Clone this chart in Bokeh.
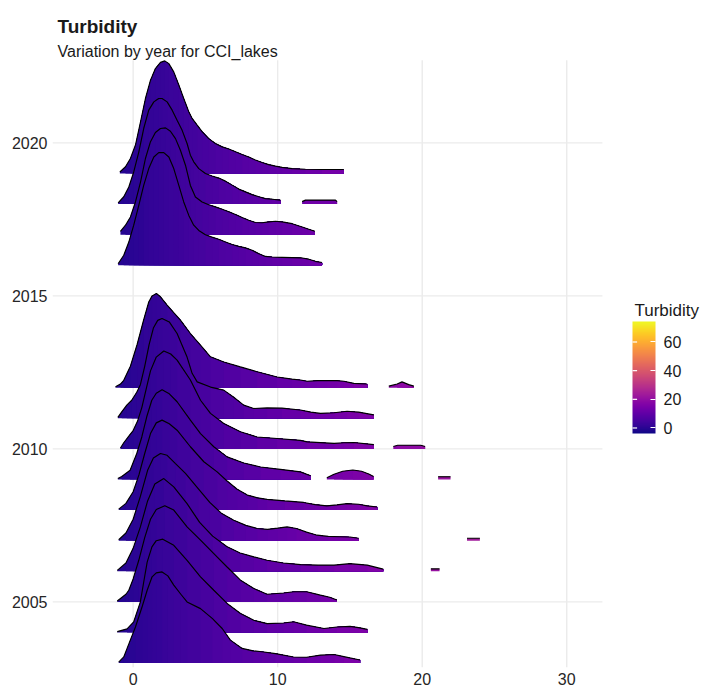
from bokeh.plotting import figure
from bokeh.models import (Range1d, FixedTicker, ColorBar, LinearColorMapper,
                          ColumnDataSource)
from bokeh.core.properties import value
from bokeh.palettes import Plasma256
from bokeh.embed import file_html
from bokeh.resources import INLINE

# Density ridges of turbidity per year: x = turbidity, h = ridge height
# (in row units above the year's baseline). None splits a ridge into pieces.
x2019 = [-0.92, -0.53, -0.19, 0.16, 0.51, 0.85, 1.20, 1.54, 1.89, 2.19, 2.47, 2.81, 3.16, 3.50,
         3.85, 4.08, 4.43, 4.77, 5.23, 5.69, 6.16, 6.62, 7.08, 7.54, 8.00, 8.46, 8.92, 9.38,
         9.85, 10.31, 11.0, 11.92, 13.07, 14.57]
h2019 = [0.05, 0.22, 0.49, 0.93, 1.69, 2.45, 3.05, 3.43, 3.63, 3.68, 3.59, 3.32, 2.89, 2.45,
         2.02, 1.80, 1.58, 1.37, 1.14, 0.98, 0.87, 0.80, 0.71, 0.62, 0.54, 0.44, 0.36, 0.29,
         0.24, 0.20, 0.16, 0.14, 0.13, 0.13]

x2018 = [-1.04, -0.65, -0.30, 0.04, 0.39, 0.73, 1.08, 1.43, 1.77, 2.00, 2.35, 2.70, 3.04, 3.39,
         3.73, 3.96, 4.19, 4.54, 5.0, 5.46, 5.92, 6.39, 6.85, 7.31, 7.77, 8.23, 8.70, 9.15,
         9.62, 10.19, None, 11.69, 11.92, 14.0, 14.11]
h2018 = [0.04, 0.24, 0.56, 1.05, 1.70, 2.47, 3.07, 3.34, 3.45, 3.45, 3.34, 3.07, 2.74, 2.41,
         1.98, 1.60, 1.38, 1.16, 1.00, 0.92, 0.85, 0.75, 0.62, 0.49, 0.40, 0.31, 0.24, 0.18,
         0.16, 0.13, None, 0.08, 0.13, 0.13, 0.08]

x2017 = [-0.88, -0.53, -0.19, 0.16, 0.51, 0.85, 1.20, 1.54, 1.89, 2.24, 2.58, 2.93, 3.27, 3.62,
         3.96, 4.31, 4.77, 5.23, 5.69, 6.16, 6.62, 7.08, 7.54, 8.00, 8.46, 8.92, 9.38, 9.85,
         10.31, 11.0, 11.70, 12.15, 12.57]
h2017 = [0.11, 0.31, 0.58, 1.07, 1.72, 2.49, 3.04, 3.34, 3.47, 3.49, 3.38, 3.14, 2.76, 2.27,
         1.61, 1.23, 1.07, 0.98, 0.91, 0.83, 0.75, 0.66, 0.56, 0.47, 0.40, 0.39, 0.42, 0.44,
         0.42, 0.36, 0.25, 0.18, 0.11]

x2016 = [-1.04, -0.65, -0.30, 0.04, 0.39, 0.73, 1.08, 1.43, 1.77, 2.12, 2.47, 2.81, 3.16, 3.50,
         3.85, 4.19, 4.54, 5.0, 5.46, 5.92, 6.39, 6.85, 7.31, 7.77, 8.23, 8.70, 9.15, 9.62,
         10.31, 11.0, 11.69, 12.15, 12.61, 13.07]
h2016 = [0.05, 0.33, 0.76, 1.31, 1.96, 2.61, 3.16, 3.54, 3.68, 3.68, 3.54, 3.16, 2.61, 2.07,
         1.63, 1.31, 1.14, 1.00, 0.92, 0.85, 0.76, 0.68, 0.62, 0.57, 0.49, 0.38, 0.29, 0.27,
         0.26, 0.25, 0.24, 0.20, 0.13, 0.09]

x2012 = [-1.22, -0.88, -0.65, -0.19, 0.28, 0.73, 1.08, 1.31, 1.61, 1.89, 2.35, 2.81, 3.27, 3.96,
         4.66, 5.35, 6.27, 7.42, 8.58, 9.96, 11.0, 11.57, 12.04, 12.73, 13.42, 14.11, 14.58,
         15.27, 16.19, None, 17.69, 18.27, 18.6, 19.07, 19.42]
h2012 = [0.03, 0.12, 0.24, 0.70, 1.42, 2.22, 2.80, 3.00, 3.08, 2.97, 2.70, 2.45, 2.21, 1.77,
         1.39, 1.01, 0.84, 0.68, 0.52, 0.35, 0.28, 0.25, 0.21, 0.23, 0.23, 0.23, 0.21,
         0.14, 0.12, None, 0.05, 0.12, 0.19, 0.10, 0.05]

x2011 = [-1.06, -0.79, -0.44, -0.1, 0.25, 0.5, 0.8, 1.1, 1.4, 1.7, 2.0, 2.5, 3.04, 3.73, 4.08,
         4.43, 5.35, 6.27, 6.96, 7.65, 8.34, 9.27, 10.3, 11.57, 12.3, 12.96, 13.9, 14.8, 15.6,
         16.65]
h2011 = [0.03, 0.21, 0.43, 0.59, 0.85, 1.10, 1.70, 2.40, 2.95, 3.20, 3.26, 3.15, 2.77, 2.00, 1.47,
         1.19, 1.02, 0.92, 0.69, 0.43, 0.32, 0.34, 0.33, 0.27, 0.20, 0.16, 0.18, 0.23, 0.20,
         0.11]

x2010 = [-0.88, -0.65, -0.3, 0.0, 0.3, 0.6, 0.9, 1.2, 1.6, 2.12, 2.6, 3.04, 3.96, 4.66, 5.35,
         6.27, 7.42, 8.58, 9.96, 11.57, 12.04, 13.9, 14.58, 15.27, 16.65, None, 18.0, 18.3,
         19.9, 20.2]
h2010 = [0.03, 0.20, 0.42, 0.60, 0.90, 1.35, 1.95, 2.55, 3.00, 3.20, 3.10, 2.90, 2.25, 1.59,
         1.16, 0.83, 0.56, 0.39, 0.34, 0.28, 0.23, 0.18, 0.20, 0.21, 0.14, None, 0.08, 0.12,
         0.12, 0.08]

x2009 = [-1.06, -0.79, -0.21, 0.25, 0.6, 0.94, 1.29, 1.6, 2.0, 2.5, 3.04, 3.96, 4.66, 5.58,
         6.5, 7.65, 8.81, 10.19, 11.57, 12.28, None, 13.4, 13.9, 14.5, 15.2, 15.8, 16.3, 16.63,
         None, 21.1, 21.96]
h2009 = [0.03, 0.10, 0.30, 0.85, 1.39, 2.05, 2.59, 2.82, 2.93, 2.80, 2.54, 1.94, 1.50, 1.07,
         0.74, 0.54, 0.41, 0.33, 0.25, 0.12, None, 0.06, 0.17, 0.27, 0.31, 0.27, 0.18, 0.10,
         None, 0.09, 0.09]

x2008 = [-1.0, -0.5, 0, 0.4, 0.8, 1.2, 1.6, 2.0, 2.5, 3.04, 3.96, 4.89, 5.81, 6.5, 7.2, 7.9,
         8.6, 9.27, 10.5, 11.8, 12.6, 13.4, 14.1, 14.8, 15.6, 16.2, 16.88]
h2008 = [0.03, 0.22, 0.60, 1.15, 1.85, 2.50, 2.85, 2.94, 2.82, 2.61, 2.07, 1.58, 1.25, 0.95,
         0.68, 0.49, 0.40, 0.35, 0.30, 0.25, 0.18, 0.14, 0.17, 0.21, 0.19, 0.14, 0.10]

x2007 = [-1.0, -0.5, 0, 0.5, 1.0, 1.4, 1.89, 2.35, 2.93, 3.62, 4.5, 5.3, 6.1, 6.96, 7.8, 8.58,
         9.3, 10.0, 10.65, 11.3, 12.0, 12.73, 13.5, 14.3, 15.0, 15.6, None, 23.1, 23.99]
h2007 = [0.03, 0.25, 0.70, 1.45, 2.30, 2.70, 2.85, 2.79, 2.52, 2.20, 1.70, 1.25, 0.90, 0.67,
         0.50, 0.40, 0.37, 0.41, 0.45, 0.40, 0.28, 0.18, 0.14, 0.13, 0.12, 0.08, None, 0.08, 0.08]

x2006 = [-1.1, -0.5, 0, 0.5, 1.0, 1.5, 2.12, 2.81, 3.73, 4.6, 5.5, 6.5, 7.4, 8.35, 9.27, 10.4,
         11.6, 12.8, 13.9, 15.0, 16.2, 17.3, None, 20.6, 21.2]
h2006 = [0.03, 0.27, 0.75, 1.45, 2.30, 2.85, 3.03, 2.76, 2.21, 1.60, 1.15, 0.80, 0.60, 0.47,
         0.36, 0.27, 0.22, 0.20, 0.20, 0.25, 0.20, 0.07, None, 0.08, 0.08]

x2005 = [-1.1, -0.5, -0.3, 0, 0.39, 0.8, 1.2, 1.6, 2.19, 2.81, 3.73, 4.66, 5.58, 6.5, 7.43,
         8.35, 9.27, 10.4, 11.1, 12.0, 12.96, 13.6, 14.1]
h2005 = [0.03, 0.25, 0.38, 0.75, 1.36, 2.10, 2.70, 3.02, 3.14, 3.00, 2.45, 2.02, 1.58, 1.14,
         0.71, 0.44, 0.25, 0.29, 0.33, 0.33, 0.22, 0.15, 0.06]

x2004 = [-1.1, -0.42, 0.04, 0.5, 0.75, 0.97, 1.3, 1.6, 2.05, 2.81, 3.73, 4.66, 5.58, 6.5, 7.43,
         8.35, 9.27, 10.4, 11.1, 12.0, 13.2, 14.1, 15.0, 15.6, 16.2]
h2004 = [0.03, 0.12, 0.35, 1.00, 1.70, 2.30, 2.80, 3.00, 3.05, 2.85, 2.36, 1.82, 1.38, 0.95,
         0.62, 0.40, 0.29, 0.31, 0.35, 0.24, 0.13, 0.18, 0.20, 0.16, 0.10]

x2003 = [-1.0, -0.65, -0.42, 0.16, 0.62, 0.97, 1.31, 1.6, 2.0, 2.4, 2.81, 3.3, 3.73, 4.66,
         5.47, 6.16, 6.73, 7.54, 8.3, 8.92, 9.85, 11.1, 12.0, 12.96, 13.9, 14.58, 15.7]
h2003 = [0.03, 0.20, 0.48, 1.18, 1.84, 2.38, 2.82, 2.95, 2.98, 2.85, 2.55, 2.25, 2.00, 1.78,
         1.46, 1.13, 0.75, 0.48, 0.40, 0.37, 0.31, 0.20, 0.19, 0.26, 0.28, 0.21, 0.10]

years = [2019, 2018, 2017, 2016, 2012, 2011, 2010, 2009, 2008, 2007, 2006, 2005, 2004, 2003]
ridge_x = [x2019, x2018, x2017, x2016, x2012, x2011, x2010, x2009, x2008, x2007, x2006,
           x2005, x2004, x2003]
ridge_h = [h2019, h2018, h2017, h2016, h2012, h2011, h2010, h2009, h2008, h2007, h2006,
           h2005, h2004, h2003]

x_ticks = [0, 10, 20, 30]
year_ticks = [2005, 2010, 2015, 2020]
legend_ticks = [0, 20, 40, 60]
turb_low, turb_high = -3.85, 74.3

FONT = "Liberation Sans"
TEXT = "#1a1a1a"
GRID = "#ebebeb"

# Panel extent (data units) and the scale of the canvas around it.
X_MIN, X_MAX = -5.58, 32.47          # plotting panel in turbidity units
Y_MIN, Y_MAX = 2002.856, 2022.70     # plotting panel in years
PX_PER_X, PX_PER_Y = 14.453, 30.6
W, H, LEFT, BOTTOM = 708, 694, 52, 27
# The frame covers the whole canvas right of the year labels and above the
# turbidity labels, so headings and the legend can be placed inside it.
xr_end = X_MIN + (W - LEFT) / PX_PER_X
yr_end = Y_MIN + (H - BOTTOM) / PX_PER_Y


def sx(px):
    return X_MIN + (px - LEFT) / PX_PER_X


def sy(py):
    return yr_end - py / PX_PER_Y


def plasma_at(v):
    t = (v - turb_low) / (turb_high - turb_low)
    i = int(round(t * 255))
    return Plasma256[max(0, min(255, i))]


def pieces(xs, hs):
    out, cx, ch = [], [], []
    for x, h in zip(xs, hs):
        if x is None:
            if cx:
                out.append((cx, ch))
            cx, ch = [], []
        else:
            cx.append(x)
            ch.append(h)
    if cx:
        out.append((cx, ch))
    return out


p = figure(width=W, height=H, output_backend="svg", toolbar_location=None,
           x_range=Range1d(X_MIN, xr_end), y_range=Range1d(Y_MIN, yr_end),
           min_border_left=LEFT, min_border_right=0, min_border_top=0,
           min_border_bottom=BOTTOM)
p.outline_line_color = None
p.background_fill_color = "white"
p.border_fill_color = "white"

p.xaxis.ticker = FixedTicker(ticks=x_ticks)
p.yaxis.ticker = FixedTicker(ticks=year_ticks)
for ax in (p.xaxis[0], p.yaxis[0]):
    ax.axis_line_color = None
    ax.major_tick_line_color = None
    ax.minor_tick_line_color = None
    ax.major_tick_out = 0
    ax.major_tick_in = 0
    ax.minor_tick_out = 0
    ax.minor_tick_in = 0
    ax.major_label_text_font = FONT
    ax.major_label_text_font_size = "16px"
    ax.major_label_text_color = "#262626"
    ax.major_label_standoff = 5
p.xgrid.grid_line_color = None
p.ygrid.grid_line_color = None

# Grid lines limited to the panel
p.segment(x0=x_ticks, x1=x_ticks, y0=[Y_MIN] * len(x_ticks), y1=[Y_MAX] * len(x_ticks),
          line_color=GRID, line_width=1.4)
p.segment(x0=[X_MIN] * len(year_ticks), x1=[X_MAX] * len(year_ticks), y0=year_ticks,
          y1=year_ticks, line_color=GRID, line_width=1.4)

# Top rows first, so each lower ridge is drawn over the one above it.
# Within a ridge, the piece from knot i to the end is painted in the colour of
# band i; each following piece covers it from knot i+1 on, which leaves a
# left-to-right colour gradient with no gaps between the bands.
for yr, xs, hs in zip(years, ridge_x, ridge_h):
    px, py, cols = [], [], []
    lx, ly = [], []
    for segx, segh in pieces(xs, hs):
        n = len(segx)
        for i in range(n - 1):
            tail_x = segx[i:]
            tail_y = [yr + h for h in segh[i:]]
            px.append([segx[i]] + tail_x + [segx[-1]])
            py.append([yr] + tail_y + [yr])
            cols.append(plasma_at(0.5 * (segx[i] + segx[i + 1])))
        lx.append(segx)
        ly.append([yr + h for h in segh])
    band = ColumnDataSource(dict(xs=px, ys=py, c=cols))
    p.patches(xs="xs", ys="ys", fill_color="c", line_color=None, source=band)
    p.multi_line(xs=lx, ys=ly, line_color="black", line_width=1.15)

# Headings
p.text(x=[sx(57)], y=[sy(26)], text=["Turbidity"], text_font=value(FONT),
       text_font_size="19px", text_font_style="bold", text_color=TEXT,
       text_baseline="alphabetic", text_align="left")
p.text(x=[sx(57)], y=[sy(50.7)], text=["Variation by year for CCI_lakes"],
       text_font=value(FONT), text_font_size="16px", text_color=TEXT,
       text_baseline="alphabetic", text_align="left")

# Colour legend
BAR_LEFT, BAR_W, BAR_TOP, BAR_H = 632, 23, 321, 112
p.text(x=[sx(634)], y=[sy(310)], text=["Turbidity"], text_font=value(FONT),
       text_font_size="17px", text_color=TEXT, text_baseline="alphabetic",
       text_align="left")
mapper = LinearColorMapper(palette=Plasma256, low=turb_low, high=turb_high)
cbar = ColorBar(color_mapper=mapper, ticker=FixedTicker(ticks=legend_ticks),
                orientation="vertical", width=BAR_W, height=BAR_H,
                location=(BAR_LEFT - LEFT, (H - BOTTOM) - (BAR_TOP + BAR_H)),
                padding=0, margin=0,
                major_label_text_font=FONT, major_label_text_font_size="16px",
                major_label_text_color=TEXT, label_standoff=8,
                major_tick_line_color="white", major_tick_in=5, major_tick_out=0,
                minor_tick_line_color=None, bar_line_color=None,
                border_line_color=None, background_fill_alpha=0)
p.add_layout(cbar, "center")
# tick marks on the bar's left edge as well
tick_py = [BAR_TOP + BAR_H - (v - turb_low) / (turb_high - turb_low) * BAR_H
           for v in legend_ticks]
p.segment(x0=[sx(BAR_LEFT)] * len(tick_py), x1=[sx(BAR_LEFT + 4.6)] * len(tick_py),
          y0=[sy(t) for t in tick_py], y1=[sy(t) for t in tick_py],
          line_color="white", line_width=1.2, level="overlay")

open("out.html", "w").write(file_html(p, INLINE))
